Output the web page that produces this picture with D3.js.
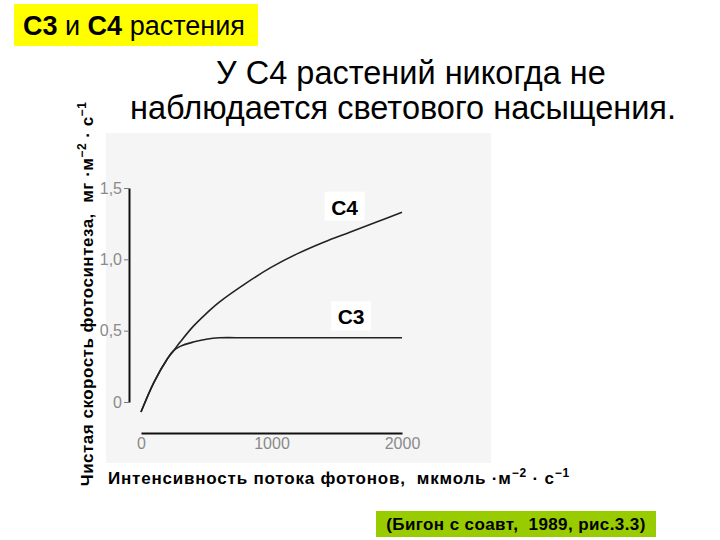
<!DOCTYPE html>
<html>
<head>
<meta charset="utf-8">
<script src="https://cdn.jsdelivr.net/npm/d3@7"></script>
<style>
  body { margin: 0; background: #fff; }
  svg { display: block; font-family: "Liberation Sans", Arial, sans-serif; }
</style>
</head>
<body>
<div id="chart"></div>
<script>
// photon flux, мкмоль·м-2·с-1
const flux = [0, 100, 200, 250, 300, 400, 500, 600, 800, 1000, 1200, 1400, 1600, 1800, 2000];
// net photosynthesis rate, мг·м-2·с-1
const c4Values = [-0.07, 0.14, 0.30, 0.36, 0.42, 0.53, 0.62, 0.70, 0.83, 0.945, 1.04, 1.12, 1.19, 1.26, 1.33];
const c3Values = [-0.07, 0.14, 0.30, 0.36, 0.39, 0.42, 0.44, 0.45, 0.45, 0.45, 0.45, 0.45, 0.45, 0.45, 0.45];
const yTicks = [0, 0.5, 1.0, 1.5];
const xTicks = [0, 1000, 2000];
const seriesNames = ["C4", "C3"];

const width = 720, height = 540;
const svg = d3.select("#chart").append("svg")
  .attr("width", width).attr("height", height);

// header box
svg.append("rect").attr("x", 14).attr("y", 4).attr("width", 244).attr("height", 42)
  .attr("fill", "#ffff00");
const head = svg.append("text").attr("x", 23).attr("y", 35)
  .attr("font-size", 27).attr("fill", "#000");
head.append("tspan").attr("font-weight", "bold").text("С3");
head.append("tspan").text(" и ");
head.append("tspan").attr("font-weight", "bold").text("С4");
head.append("tspan").text(" растения");

// title
svg.append("text").attr("x", 411).attr("y", 84).attr("text-anchor", "middle")
  .attr("font-size", 32.5).text("У С4 растений никогда не");
svg.append("text").attr("x", 403).attr("y", 119).attr("text-anchor", "middle")
  .attr("font-size", 32.5).text("наблюдается светового насыщения.");

// scanned figure background
svg.append("rect").attr("x", 106).attr("y", 133).attr("width", 385).attr("height", 330)
  .attr("fill", "#f5f5f5");

const x = d3.scaleLinear().domain([0, 2000]).range([141, 402]);
const y = d3.scaleLinear().domain([0, 1.5]).range([402, 188]);

const tickFont = "Liberation Sans, Arial, sans-serif";

// y axis
const yAxis = svg.append("g").attr("transform", "translate(129,0)")
  .call(d3.axisLeft(y).tickValues(yTicks).tickSize(5).tickSizeOuter(0).tickPadding(2)
    .tickFormat(d => d === 0 ? "0" : d3.format(".1f")(d).replace(".", ",")));
yAxis.select(".domain").attr("stroke", "#111").attr("stroke-width", 2);
yAxis.selectAll(".tick line").attr("stroke", "#777");
yAxis.selectAll(".tick text").attr("fill", "#8a8a8a").attr("font-size", 16)
  .attr("font-family", tickFont);

// x axis
const xAxis = svg.append("g").attr("transform", "translate(0,433)")
  .call(d3.axisBottom(x).tickValues(xTicks).tickSize(0).tickPadding(5).tickFormat(d3.format("d")));
xAxis.select(".domain").attr("stroke", "#111").attr("stroke-width", 1.8);
xAxis.selectAll(".tick text").attr("fill", "#8a8a8a").attr("font-size", 16)
  .attr("font-family", tickFont);

// curves
const line = d3.line().x((d, i) => x(flux[i])).y(d => y(d)).curve(d3.curveCatmullRom);
[c4Values, c3Values].forEach(vals => {
  svg.append("path").attr("d", line(vals))
    .attr("fill", "none").attr("stroke", "#222").attr("stroke-width", 1.6);
});

// series labels
const labelPos = [{ v: 1.37, px: 1560 }, { v: 0.6, px: 1610 }];
seriesNames.forEach((name, i) => {
  const cx = x(labelPos[i].px), cy = y(labelPos[i].v);
  svg.append("rect").attr("x", cx - 20).attr("y", cy - 15).attr("width", 40).attr("height", 29)
    .attr("fill", "#fff");
  svg.append("text").attr("x", cx).attr("y", cy + 8).attr("text-anchor", "middle")
    .attr("font-size", 21).attr("font-weight", "bold").text(name);
});

// y label
const yl = svg.append("text").attr("transform", "translate(93,294) rotate(-90)")
  .attr("text-anchor", "middle").attr("font-size", 17).attr("font-weight", "bold")
  .attr("letter-spacing", 0.5);
yl.append("tspan").text("Чистая скорость фотосинтеза,\u00a0 мг ·м");
yl.append("tspan").attr("font-size", 12).attr("dy", -7).text("−2");
yl.append("tspan").attr("font-size", 17).attr("dy", 7).text(" · с");
yl.append("tspan").attr("font-size", 12).attr("dy", -7).text("−1");

// x label
const xl = svg.append("text").attr("x", 108).attr("y", 484)
  .attr("font-size", 17).attr("font-weight", "bold").attr("letter-spacing", 0.8);
xl.append("tspan").text("Интенсивность потока фотонов,\u00a0 мкмоль ·м");
xl.append("tspan").attr("font-size", 12).attr("dy", -7).text("−2");
xl.append("tspan").attr("font-size", 17).attr("dy", 7).text(" · с");
xl.append("tspan").attr("font-size", 12).attr("dy", -7).text("−1");

// source box
svg.append("rect").attr("x", 376).attr("y", 511).attr("width", 280).attr("height", 26)
  .attr("fill", "#99cc00");
svg.append("text").attr("x", 516).attr("y", 530).attr("text-anchor", "middle")
  .attr("font-size", 17).attr("font-weight", "bold").attr("letter-spacing", 0.4)
  .text("(Бигон с соавт,\u00a0 1989, рис.3.3)");
</script>
</body>
</html>
